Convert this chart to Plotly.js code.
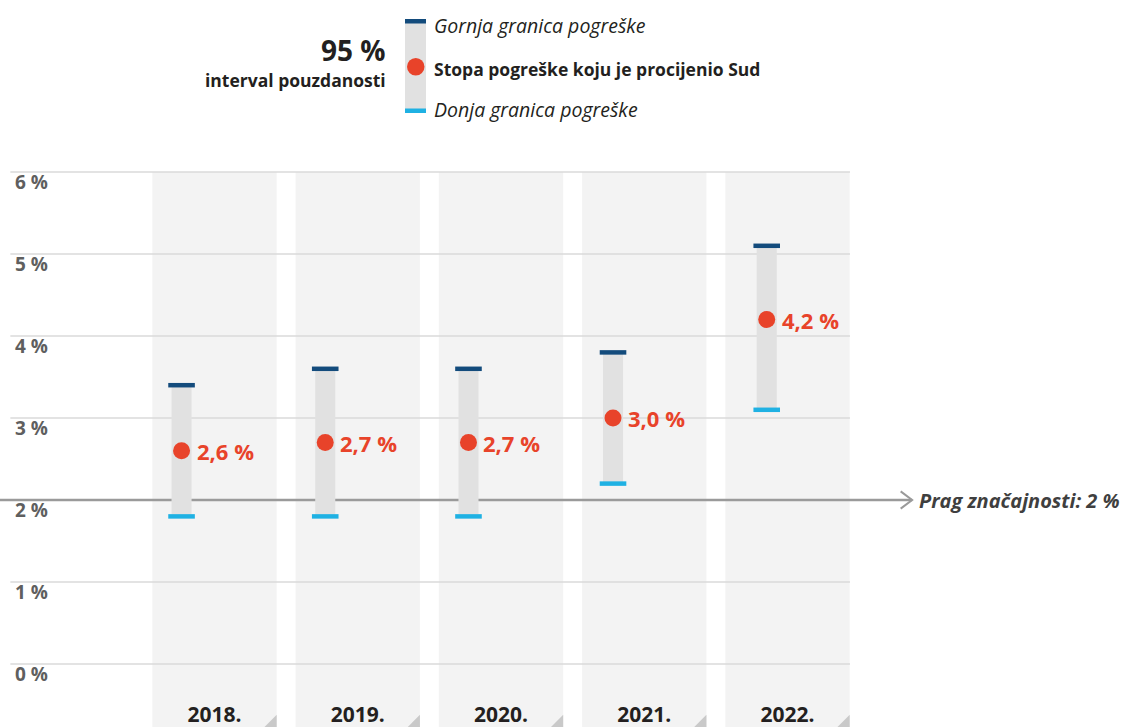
<!DOCTYPE html>
<html>
<head>
<meta charset="utf-8">
<script src="https://cdn.plot.ly/plotly-3.0.1.min.js"></script>
<style>html,body{margin:0;padding:0;background:#fff;}#chart{width:1121px;height:727px;}</style>
</head>
<body>
<div id="chart"></div>
<script>
// ---------------- DATA ----------------
const years = ['2018.', '2019.', '2020.', '2021.', '2022.'];
const estimate = [2.6, 2.7, 2.7, 3.0, 4.2];
const upperBound = [3.4, 3.6, 3.6, 3.8, 5.1];
const lowerBound = [1.8, 1.8, 1.8, 2.2, 3.1];
const threshold = 2;
const yTickValues = [0, 1, 2, 3, 4, 5, 6];
const yTickLabels = ['0 %', '1 %', '2 %', '3 %', '4 %', '5 %', '6 %'];
const thresholdLabel = 'Prag značajnosti: 2 %';
const legendBig = '95 %';
const legendSmall = 'interval pouzdanosti';
const legendUpper = 'Gornja granica pogreške';
const legendEstimate = 'Stopa pogreške koju je procijenio Sud';
const legendLower = 'Donja granica pogreške';

// ---------------- STYLE / LAYOUT CONSTANTS ----------------
const W = 1121, H = 727;
const X_RANGE = [-1.4974, 6.3281];
const Y_RANGE = [-0.7683, 8.0976];
const BAND_HALF = 0.434;
const BAR_SHIFT = [-0.23, -0.227, -0.227, -0.218, -0.145];
const BAR_WIDTH = 0.14;
const GRID_X0 = -1.425, GRID_X1 = 4.436;
const ARROW_TIP = 4.87;
const C = {
  band: '#f3f3f3', grid: '#dadada', bar: '#e1e1e1', dark: '#134b7c', cyan: '#1fb1e3',
  red: '#e8432a', tick: '#5f5f5f', year: '#231f20', thr: '#9a9a9a', thrText: '#3f3f3f', text: '#231f20',
  corner: '#c9c9c9'
};
const FONT = 'Open Sans, Noto Sans, sans-serif';

const idx = years.map((_, i) => i);
const barX = idx.map(i => i + BAR_SHIFT[i]);
const fmt = v => v.toFixed(1).replace('.', ',') + ' %';

const traces = [
  { type: 'bar', x: barX, base: lowerBound, y: upperBound.map((u, i) => u - lowerBound[i]),
    width: BAR_WIDTH, marker: { color: C.bar, line: { width: 0 } }, hoverinfo: 'skip' },
  { type: 'scatter', mode: 'markers', x: barX, y: upperBound,
    marker: { symbol: 'line-ew', size: 19, line: { color: C.dark, width: 4.5 } }, hoverinfo: 'skip' },
  { type: 'scatter', mode: 'markers', x: barX, y: lowerBound,
    marker: { symbol: 'line-ew', size: 19, line: { color: C.cyan, width: 4.5 } }, hoverinfo: 'skip' },
  { type: 'scatter', mode: 'markers', x: barX, y: estimate,
    marker: { size: 17, color: C.red }, cliponaxis: false, hoverinfo: 'skip' }
];

const shapes = [];
// column bands
idx.forEach(i => {
  shapes.push({ type: 'rect', layer: 'below', xref: 'x', yref: 'y',
    x0: i - BAND_HALF, x1: i + BAND_HALF, y0: Y_RANGE[0], y1: yTickValues[yTickValues.length - 1],
    fillcolor: C.band, line: { width: 0 } });
  const r = i + BAND_HALF, b = Y_RANGE[0], w = 0.085, h = 0.15;
  shapes.push({ type: 'path', layer: 'below', xref: 'x', yref: 'y',
    path: `M ${r},${b} L ${r},${b + h} L ${r - w},${b} Z`, fillcolor: C.corner, line: { width: 0 } });
});
// gridlines
yTickValues.forEach(v => {
  shapes.push({ type: 'line', layer: 'below', xref: 'x', yref: 'y',
    x0: GRID_X0, x1: GRID_X1, y0: v, y1: v, line: { color: C.grid, width: 1.5 } });
});
// threshold line + chevron
shapes.push({ type: 'line', layer: 'below', xref: 'x', yref: 'y',
  x0: X_RANGE[0], x1: ARROW_TIP, y0: threshold, y1: threshold, line: { color: C.thr, width: 2.5 } });
shapes.push({ type: 'path', layer: 'below', xref: 'x', yref: 'y',
  path: `M ${ARROW_TIP - 0.08},${threshold + 0.105} L ${ARROW_TIP},${threshold} L ${ARROW_TIP - 0.08},${threshold - 0.105}`,
  line: { color: C.thr, width: 2 } });

// legend graphic (paper coords, from pixel positions)
const px = x => x / W, py = y => 1 - y / H;
shapes.push({ type: 'rect', xref: 'paper', yref: 'paper', x0: px(405), x1: px(426), y0: py(21), y1: py(111), fillcolor: C.bar, line: { width: 0 } });
shapes.push({ type: 'rect', xref: 'paper', yref: 'paper', x0: px(405), x1: px(426), y0: py(19), y1: py(23.5), fillcolor: C.dark, line: { width: 0 } });
shapes.push({ type: 'rect', xref: 'paper', yref: 'paper', x0: px(405), x1: px(426), y0: py(108.5), y1: py(113), fillcolor: C.cyan, line: { width: 0 } });
shapes.push({ type: 'circle', xref: 'paper', yref: 'paper', x0: px(407), x1: px(424.5), y0: py(58), y1: py(75.5), fillcolor: C.red, line: { width: 0 } });

const annotations = [
  { xref: 'x', yref: 'y', x: ARROW_TIP + 0.035, y: threshold, xanchor: 'left', yanchor: 'middle', showarrow: false,
    text: thresholdLabel, font: { family: FONT, size: 20, color: C.thrText, weight: 700, style: 'italic' } },
  { xref: 'paper', yref: 'paper', x: px(388), y: py(50), xanchor: 'right', yanchor: 'middle', showarrow: false,
    text: legendBig, font: { family: FONT, size: 28, color: C.text, weight: 700 } },
  { xref: 'paper', yref: 'paper', x: px(388), y: py(80), xanchor: 'right', yanchor: 'middle', showarrow: false,
    text: legendSmall, font: { family: FONT, size: 17.5, color: C.text, weight: 700 } },
  { xref: 'paper', yref: 'paper', x: px(432), y: py(26), xanchor: 'left', yanchor: 'middle', showarrow: false,
    text: legendUpper, font: { family: FONT, size: 19.5, color: C.text, style: 'italic' } },
  { xref: 'paper', yref: 'paper', x: px(432), y: py(69), xanchor: 'left', yanchor: 'middle', showarrow: false,
    text: legendEstimate, font: { family: FONT, size: 17.5, color: C.text, weight: 700 } },
  { xref: 'paper', yref: 'paper', x: px(432), y: py(109), xanchor: 'left', yanchor: 'middle', showarrow: false,
    text: legendLower, font: { family: FONT, size: 19.5, color: C.text, style: 'italic' } }
];
// value labels next to the estimate dots
estimate.forEach((v, i) => {
  annotations.push({ xref: 'x', yref: 'y', x: barX[i], y: v, xanchor: 'left', yanchor: 'middle',
    xshift: 13, showarrow: false, text: fmt(v),
    font: { family: FONT, size: 22, color: C.red, weight: 700 } });
});

const layout = {
  width: W, height: H,
  margin: { l: 0, r: 0, t: 0, b: 0, pad: 0 },
  paper_bgcolor: '#ffffff', plot_bgcolor: 'rgba(0,0,0,0)',
  showlegend: false,
  xaxis: { range: X_RANGE, tickvals: idx, ticktext: years, ticklabelposition: 'inside', ticklabelstandoff: -2,
    ticks: '', showgrid: false, zeroline: false, showline: false, fixedrange: true,
    tickfont: { family: FONT, size: 21, color: C.year, weight: 700 } },
  yaxis: { range: Y_RANGE, tickvals: yTickValues, ticktext: yTickLabels, ticklabelposition: 'inside',
    ticklabelshift: 10, ticklabelstandoff: 12,
    ticks: '', showgrid: false, zeroline: false, showline: false, fixedrange: true,
    tickfont: { family: FONT, size: 19, color: C.tick, weight: 700 } },
  shapes: shapes,
  annotations: annotations
};

Plotly.newPlot('chart', traces, layout, { displayModeBar: false, staticPlot: true });
</script>
</body>
</html>
